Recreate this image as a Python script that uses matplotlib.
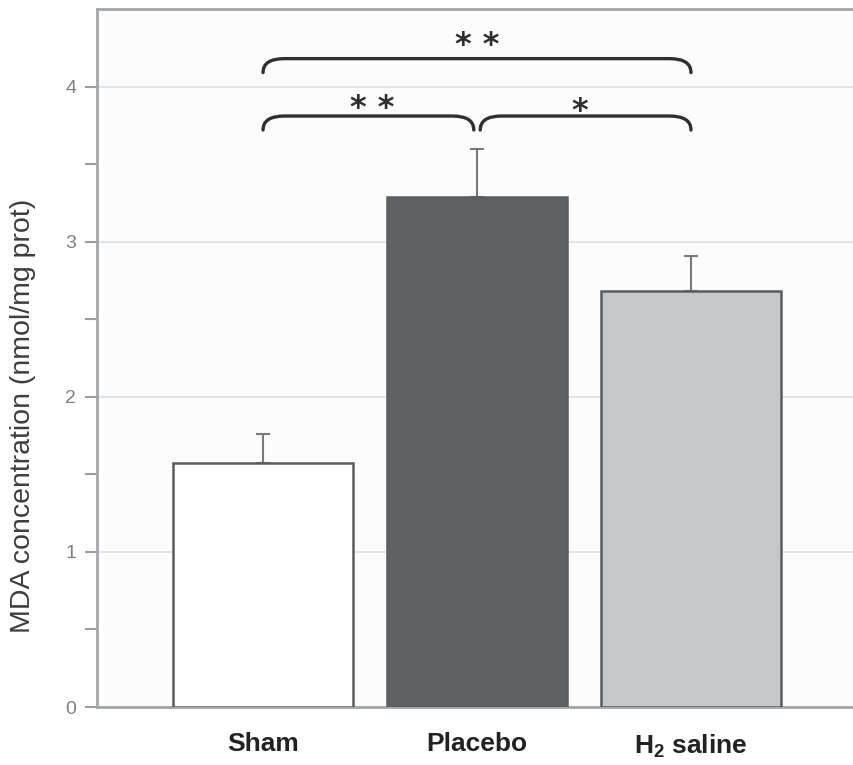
import matplotlib.pyplot as plt
from matplotlib.path import Path
from matplotlib.patches import PathPatch

# Data
groups = ['Sham', 'Placebo', r'H$_\mathregular{2}$ saline']
means = [1.57, 3.29, 2.68]
errors = [0.19, 0.31, 0.23]
bar_colors = ['#ffffff', '#5f6265', '#c6c9cc']

# significance brackets: (x start, x end, height, label, label x, label y)
brackets = [
    (0, 2, 4.18, '* *', 1.0, 4.265),
    (0, 0.985, 3.81, '* *', 0.51, 3.86),
    (1.015, 2, 3.81, '*', 1.48, 3.84),
]

plt.rcParams['font.family'] = ['Liberation Sans', 'DejaVu Sans']

fig = plt.figure(figsize=(8.54, 7.65), dpi=100)
ax = fig.add_axes([97 / 854, 58 / 765, 1 - 97 / 854, 698 / 765])
ax.set_facecolor('#fcfcfd')

x = list(range(len(groups)))
ax.bar(x, means, width=0.84, color=bar_colors, edgecolor='#5a5d60',
       linewidth=1.8, zorder=3)
ax.errorbar(x, means, yerr=[[0] * len(means), errors], fmt='none',
            ecolor='#77797c', elinewidth=1.5, capsize=5, capthick=1.5, zorder=2)

for x0, x1, y, label, lx, ly in brackets:
    rx, ry = 0.1, 0.09
    verts = [(x0, y - ry), (x0, y), (x0 + rx, y), (x1 - rx, y),
             (x1, y), (x1, y - ry)]
    codes = [Path.MOVETO, Path.CURVE3, Path.CURVE3, Path.LINETO,
             Path.CURVE3, Path.CURVE3]
    ax.add_patch(PathPatch(Path(verts, codes), fill=False, edgecolor='#2e2f30',
                           linewidth=2.4, capstyle='round', zorder=4))
    ax.text(lx, ly, label, ha='center', va='center', fontsize=23,
            fontweight='bold', color='#2e2f30', family='DejaVu Sans')

ax.set_xlim(-0.776, 2.762)
ax.set_ylim(0, 4.5)
ax.set_yticks([0, 1, 2, 3, 4])
ax.set_yticks([0.5, 1.5, 2.5, 3.5], minor=True)
ax.yaxis.grid(True, color='#dcdfe2', linewidth=1.2, zorder=0)
ax.set_axisbelow(True)

ax.set_xticks(x)
ax.set_xticklabels(groups, fontsize=19, fontweight='bold', color='#222222',
                   family=['Liberation Sans Narrow', 'Liberation Sans'])
ax.tick_params(axis='x', length=0, pad=18)
ax.tick_params(axis='y', which='both', direction='out', length=9,
               width=1.5, color='#9a9da0', labelcolor='#7d8084',
               labelsize=14, pad=6)

for side in ['left', 'bottom', 'top']:
    ax.spines[side].set_color('#a4a7aa')
    ax.spines[side].set_linewidth(2)
ax.spines['right'].set_visible(False)

ax.set_ylabel('MDA concentration (nmol/mg prot)', fontsize=20.5,
              color='#3c3d3f')
ax.yaxis.set_label_coords(-0.08, 0.417)

fig.savefig('out.png', dpi=100)
